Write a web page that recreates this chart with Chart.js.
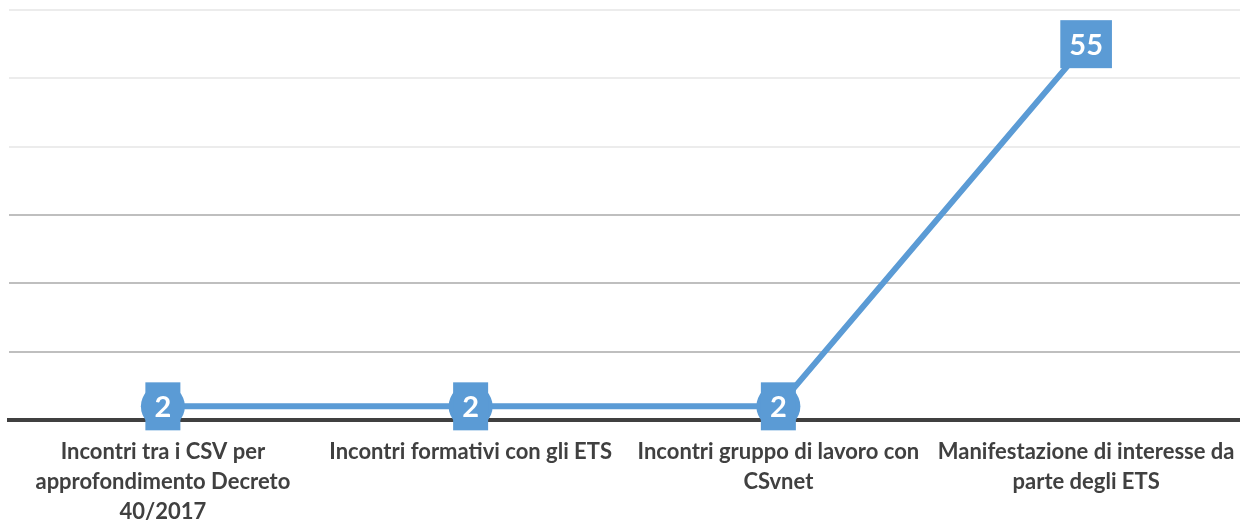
<!DOCTYPE html>
<html>
<head>
<meta charset="utf-8">
<script src="https://cdn.jsdelivr.net/npm/chart.js@4"></script>
<style>
  body { margin: 0; background: #fff; }
  #wrap { width: 1240px; height: 520px; }
</style>
</head>
<body>
<div id="wrap"><canvas id="myChart"></canvas></div>
<script>
var categories = [
    ["Incontri tra i CSV per", "approfondimento Decreto", "40/2017"],
    "Incontri formativi con gli ETS",
    ["Incontri gruppo di lavoro con", "CSvnet"],
    ["Manifestazione di interesse da", "parte degli ETS"]
];
var values = [2, 2, 2, 55];
var yTicks = [0, 10, 20, 30, 40, 50, 60];

var blue = "#5b9bd5";

// boxes with the value, drawn on each point
var boxLabels = {
    id: 'boxLabels',
    afterDatasetsDraw: function (chart) {
        var ctx = chart.ctx;
        var meta = chart.getDatasetMeta(0);
        ctx.save();
        ctx.font = "bold 29px Lato, 'Open Sans', sans-serif";
        ctx.textAlign = "center";
        ctx.textBaseline = "middle";
        meta.data.forEach(function (pt, i) {
            var txt = String(values[i]);
            var w = Math.max(ctx.measureText(txt).width + 18, 35);
            var h = 48;
            ctx.fillStyle = blue;
            ctx.fillRect(pt.x - w / 2, pt.y - h / 2, w, h);
            ctx.fillStyle = "#ffffff";
            ctx.fillText(txt, pt.x, pt.y + 1);
        });
        ctx.restore();
    }
};

var ctx = document.getElementById("myChart").getContext("2d");
var chart = new Chart(ctx, {
    type: 'line',
    data: {
        labels: categories,
        datasets: [{
            data: values,
            borderColor: blue,
            borderWidth: 6,
            backgroundColor: blue,
            pointRadius: 22,
            pointHoverRadius: 22,
            pointBorderWidth: 0,
            pointBackgroundColor: blue,
            tension: 0,
            clip: false
        }]
    },
    options: {
        responsive: true,
        maintainAspectRatio: false,
        animation: false,
        layout: { autoPadding: false, padding: { left: 9, right: 0, top: 10, bottom: 0 } },
        plugins: {
            legend: { display: false },
            tooltip: { enabled: false }
        },
        scales: {
            x: {
                offset: true,
                grid: { display: false },
                border: { display: true, color: "#404040", width: 4 },
                ticks: {
                    color: "#404040",
                    font: { family: "Lato, 'Open Sans', sans-serif", size: 22, weight: "bold", lineHeight: 1.36 },
                    padding: 9,
                    maxRotation: 0,
                    autoSkip: false
                },
                afterFit: function (scale) {
                    scale.height = 100;
                    scale.paddingLeft = 0;
                    scale.paddingRight = 0;
                }
            },
            y: {
                min: 0,
                max: 60,
                afterBuildTicks: function (scale) {
                    scale.ticks = yTicks.map(function (v) { return { value: v }; });
                },
                ticks: { display: false },
                border: { display: false },
                grid: {
                    drawTicks: false,
                    lineWidth: 2,
                    color: function (c) {
                        var v = c.tick ? c.tick.value : 0;
                        return v <= 30 ? "#bfbfbf" : "#ececec";
                    }
                },
                afterFit: function (scale) {
                    scale.width = 0;
                    scale.paddingTop = 0;
                    scale.paddingBottom = 0;
                }
            }
        }
    },
    plugins: [boxLabels]
});
</script>
</body>
</html>
